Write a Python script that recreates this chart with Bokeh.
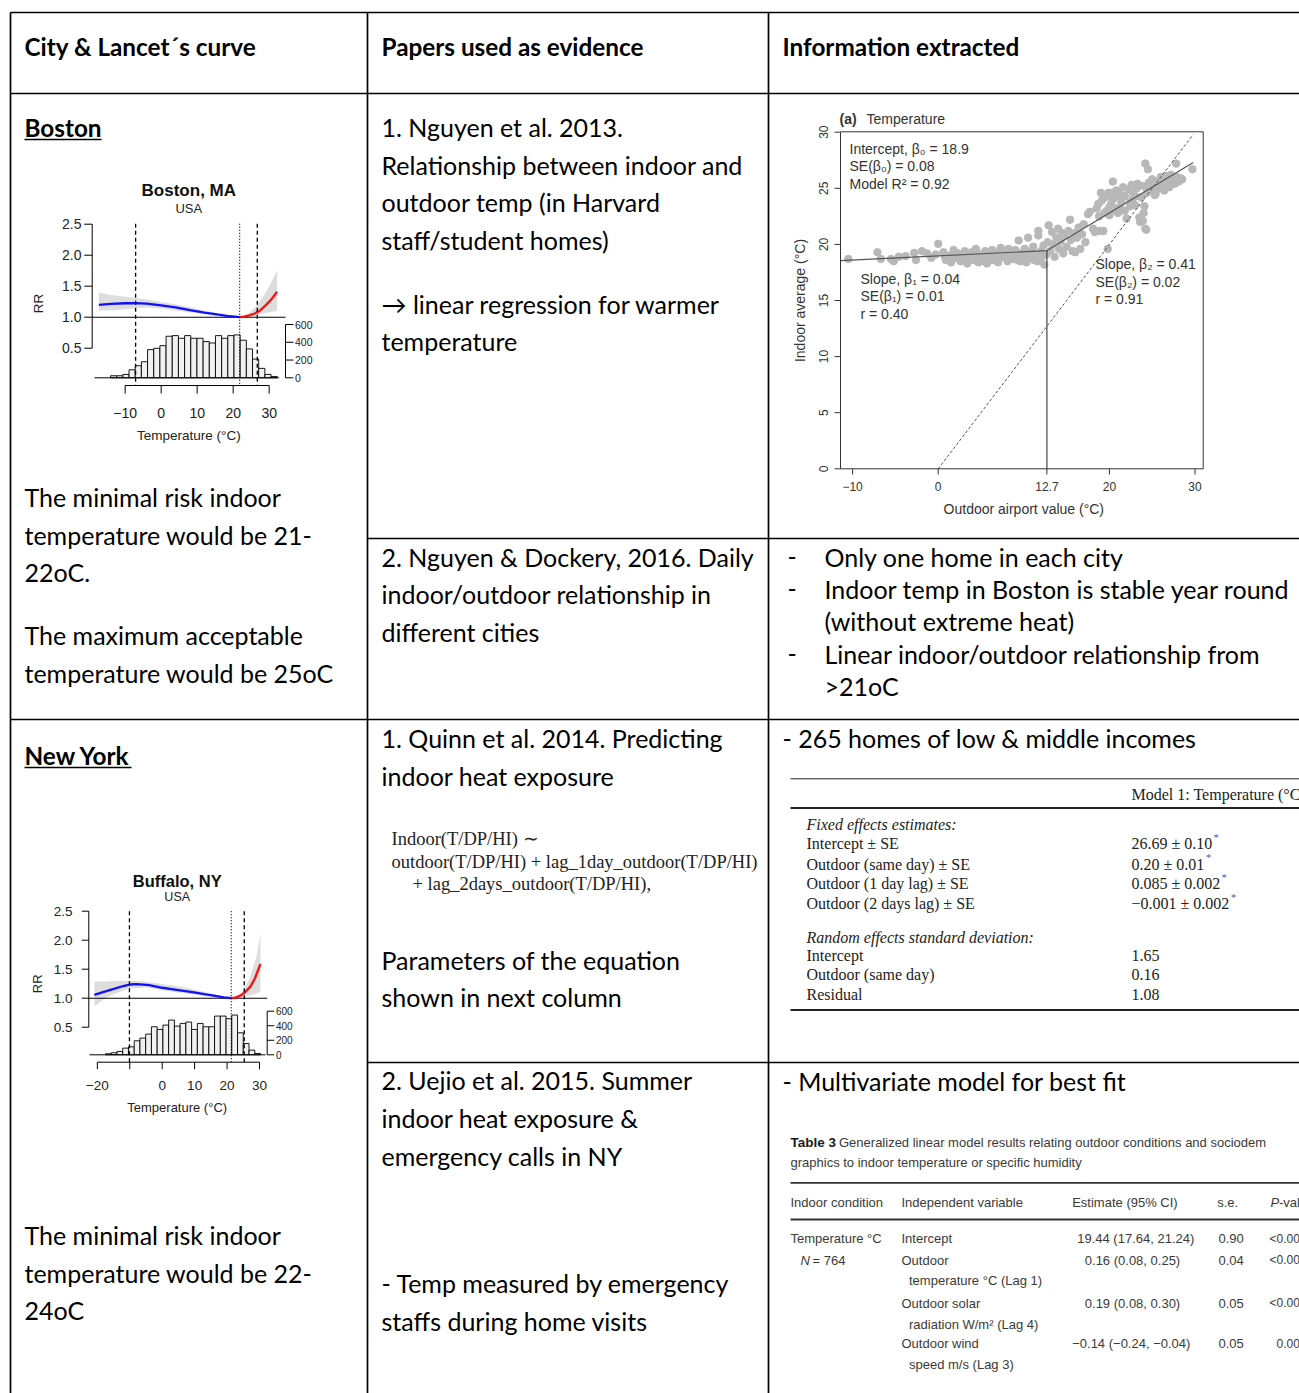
from math import pi
from bokeh.plotting import figure
from bokeh.models import Range1d
from bokeh.core.properties import value
from bokeh.embed import file_html
from bokeh.resources import INLINE

# ------------------------------------------------------------------ data
# Boston, MA (Lancet curve)
BOS_HIST_START = -14.07
BOS_HIST_BIN = 1.715
BOS_HIST_COUNTS = [23, 23, 38, 90, 136, 181, 317, 332, 362, 468, 475, 445, 475, 445,
                   445, 408, 392, 475, 445, 475, 483, 423, 325, 211, 106, 38, 15]
BOS_BLUE_T = [-17.3, -14, -10, -7.1, -4, 0, 4, 8, 12, 16, 19, 21.8]
BOS_BLUE_RR = [1.20, 1.215, 1.225, 1.226, 1.22, 1.19, 1.16, 1.115, 1.075, 1.04, 1.015, 1.0]
BOS_RED_T = [21.8, 23, 24.5, 26, 27.5, 29, 30.5, 32.2]
BOS_RED_RR = [1.0, 1.01, 1.03, 1.06, 1.11, 1.19, 1.28, 1.41]
BOS_BAND_T = [-17.3, -14, -10, -7, -4, 0, 4, 8, 12, 16, 19, 21.8, 24, 26, 28, 30, 32.2]
BOS_BAND_HI = [1.40, 1.36, 1.33, 1.31, 1.285, 1.245, 1.21, 1.16, 1.11, 1.06, 1.025, 1.0, 1.05, 1.15, 1.30, 1.50, 1.75]
BOS_BAND_LO = [1.11, 1.11, 1.13, 1.145, 1.155, 1.14, 1.11, 1.08, 1.05, 1.02, 1.005, 1.0, 1.0, 1.02, 1.06, 1.08, 1.10]
BOS_DASH = [-7.1, 26.7]
BOS_DOT = 21.8
BOS_XTICKS = [-10, 0, 10, 20, 30]
BOS_XLABELS = ["\u221210", "0", "10", "20", "30"]

# Buffalo, NY (Lancet curve)
BUF_HIST_START = -17.48
BUF_HIST_BIN = 1.77
BUF_HIST_COUNTS = [14, 28, 46, 92, 110, 193, 230, 285, 386, 349, 409, 478, 395, 432,
                   451, 349, 432, 386, 386, 533, 533, 497, 547, 303, 156, 64, 18]
BUF_BLUE_T = [-20.9, -18, -14.9, -12, -10.1, -8, -6.7, -4, 0, 5, 9.8, 13, 15.9, 19, 21.3]
BUF_BLUE_RR = [1.057, 1.11, 1.16, 1.21, 1.236, 1.242, 1.24, 1.225, 1.18, 1.14, 1.10, 1.07, 1.046, 1.015, 1.0]
BUF_RED_T = [21.3, 22.5, 24.2, 25.5, 27.2, 28.5, 30.3]
BUF_RED_RR = [1.0, 1.01, 1.046, 1.10, 1.2, 1.33, 1.59]
BUF_BAND_T = [-20.9, -18, -15, -10, -5, 0, 5, 10, 15, 19, 21.3, 23, 25, 27, 29, 30.3]
BUF_BAND_HI = [1.29, 1.29, 1.295, 1.30, 1.285, 1.245, 1.20, 1.15, 1.08, 1.025, 1.0, 1.04, 1.12, 1.35, 1.70, 2.11]
BUF_BAND_LO = [0.86, 0.98, 1.07, 1.17, 1.185, 1.14, 1.10, 1.06, 1.025, 1.005, 1.0, 1.0, 1.02, 1.05, 1.08, 1.11]
BUF_DASH = [-10.1, 25.3]
BUF_DOT = 21.3
BUF_XTICKS = [-20, -10, 0, 10, 20, 30]
BUF_XLABELS = ["\u221220", "", "0", "10", "20", "30"]

RR_TICKS = [0.5, 1.0, 1.5, 2.0, 2.5]
RR_LABELS = ["0.5", "1.0", "1.5", "2.0", "2.5"]
HIST_TICKS = [0, 200, 400, 600]
HIST_LABELS = ["0", "200", "400", "600"]

# Nguyen et al. 2013 scatter (outdoor airport T vs indoor average T)
SC_T = [-10.5, -7.1, -6.7, -5.5, -5.2, -4.6, -3.8, -2.8, -2.6, -1.9, -1.3, 0.0, -0.3, -0.8,
        0.6, 0.9, 1.2, 1.5, 1.8, 2.1, 2.3, 2.6, 2.9, 3.1, 3.4, 3.6, 3.9, 4.2, 4.4, 4.7, 4.9, 5.2,
        5.5, 5.7, 6.0, 6.3, 6.5, 6.8, 7.0, 7.3, 7.6, 7.8, 8.1, 8.2, 8.5, 8.8, 9.0, 9.4, 9.3, 9.6,
        9.8, 10.1, 10.3, 10.5, 10.6, 10.9, 11.1, 11.3, 11.7, 11.7, 11.6, 11.9, 12.0, 12.3, 12.4, 12.6,
        0.8, 1.6, 2.4, 3.2, 4.0, 4.8, 5.6, 6.4, 7.2, 8.0, 8.8, 9.6, 10.4, 11.2, 12.0, 3.0, 5.0, 7.0, 9.0, 11.0,
        12.8, 12.9, 13.1, 13.3, 13.4, 13.6, 13.8, 14.0, 14.1, 14.3, 14.5, 14.6, 14.8, 15.0, 15.2,
        15.4, 15.5, 15.7, 15.9, 16.0, 16.2, 16.4, 16.6, 16.8, 17.0, 17.2, 17.5, 17.7,
        18.1, 18.3, 18.5, 18.7, 18.9, 19.1, 19.8, 19.3, 19.5, 19.7, 19.9, 20.0, 20.2, 20.2, 20.4, 20.4,
        20.6, 20.8, 21.0, 21.2, 21.4, 21.6, 21.8, 22.0, 22.2, 22.4, 22.6, 22.8, 23.0, 23.2, 23.5, 23.6, 23.7,
        18.8, 19.4, 20.0, 20.6, 21.2, 21.8, 22.4, 23.0, 19.0, 20.3, 21.5, 22.7,
        24.0, 24.2, 24.2, 24.3, 24.4, 24.5, 24.6, 24.8, 25.0, 25.2, 25.4, 25.6, 25.8, 26.0, 26.2,
        26.4, 26.6, 26.8, 27.0, 27.2, 27.4, 27.6, 27.8, 27.9, 28.1, 28.3, 28.5, 29.7, 23.3, 25.3,
        24.0, 24.1, 23.9]
SC_V = [18.7, 19.3, 18.7, 18.7, 18.5, 18.9, 18.95, 19.25, 18.6, 19.4, 19.2, 20.05, 19.1, 18.8,
        19.3, 18.6, 19.0, 18.4, 19.5, 18.8, 19.2, 18.5, 19.0, 19.4, 18.3, 18.9, 19.3, 18.6, 19.6, 18.4, 19.1, 18.8,
        19.4, 18.3, 19.0, 19.5, 18.6, 19.2, 18.4, 19.7, 18.9, 19.3, 18.5, 19.6, 19.1, 18.7, 19.5, 20.35, 18.6, 19.2,
        18.9, 19.6, 18.4, 20.6, 19.3, 18.8, 19.8, 19.0, 21.2, 20.8, 18.5, 18.7, 19.4, 19.9, 18.2, 19.1,
        18.9, 18.9, 18.9, 18.7, 19.0, 18.9, 18.9, 18.9, 19.0, 19.0, 19.2, 18.5, 19.1, 18.6, 18.8, 18.8, 18.5, 19.0, 18.9, 19.3,
        20.2, 21.7, 19.4, 21.1, 20.0, 18.9, 20.6, 21.4, 19.6, 20.3, 21.0, 19.2, 20.8, 19.8, 21.2,
        22.2, 20.4, 19.4, 21.0, 19.3, 20.6, 21.5, 19.6, 20.9, 21.8, 20.2, 22.7, 22.9,
        21.4, 21.1, 23.2, 23.6, 21.2, 23.9, 19.6, 21.2, 24.2, 23.0, 24.6, 22.6, 23.6, 23.0, 25.6, 24.0,
        23.2, 24.8, 22.8, 24.5, 23.8, 25.1, 24.3, 22.3, 24.9, 23.7, 25.3, 24.5, 23.5, 25.0, 22.4, 22.0, 24.2,
        22.5, 22.8, 23.3, 24.2, 23.3, 23.0, 23.4, 24.3, 24.6, 24.6, 24.2, 24.0,
        25.2, 27.2, 21.4, 21.3, 24.6, 26.7, 25.5, 24.9, 25.8, 25.1, 24.5, 25.6, 25.0, 26.0, 25.3,
        24.8, 26.1, 25.6, 25.1, 26.2, 25.7, 25.4, 27.2, 26.0, 25.6, 25.9, 25.8, 26.7, 25.4, 24.4,
        22.8, 23.4, 22.1]
SC_FIT_T = [-11.4, 12.7, 29.8]
SC_FIT_V = [18.55, 19.45, 27.3]
SC_BREAK = 12.7
SC_IDENT = [0, 29.8]
SC_XTICKS = [-10, 0, 12.7, 20, 30]
SC_XLABELS = ["\u221210", "0", "12.7", "20", "30"]
SC_YTICKS = [0, 5, 10, 15, 20, 25, 30]
SC_YLABELS = ["0", "5", "10", "15", "20", "25", "30"]

# ------------------------------------------------------------------ page
W, H = 1299, 1393
X0, X1, Y0, Y1 = 0, W, 0, H
p = figure(width=W, height=H, x_range=Range1d(X0, X1), y_range=Range1d(Y1, Y0),
           output_backend="svg", toolbar_location=None, min_border=0,
           x_axis_type=None, y_axis_type=None, outline_line_color=None,
           background_fill_color="white", border_fill_color="white")


def lin_range(v0, px0, v1, px1, lo_px, hi_px):
    s = (px1 - px0) / (v1 - v0)
    return Range1d(v0 + (lo_px - px0) / s, v0 + (hi_px - px0) / s)


p.extra_x_ranges = {
    "bx": lin_range(0, 160.67, 10, 196.67, X0, X1),
    "fx": lin_range(0, 161.7, 10, 194.13, X0, X1),
    "sx": lin_range(0, 937.7, 30, 1194.5, X0, X1),
}
p.extra_y_ranges = {
    "brr": lin_range(1.0, 316.7, 2.0, 254.7, Y1, Y0),
    "bh": lin_range(0, 377.3, 600, 324.0, Y1, Y0),
    "frr": lin_range(1.0, 997.7, 2.0, 939.7, Y1, Y0),
    "fh": lin_range(0, 1054.3, 600, 1010.7, Y1, Y0),
    "sy": lin_range(0, 468.3, 30, 131.7, Y1, Y0),
}

MAIN = "Lato"
CH = "Liberation Sans"
SERIF = "Liberation Serif"


def T(xs, ys, texts, size, font=MAIN, style="normal", color="black", align="left",
      baseline="middle", angle=0.0, xr=None, yr=None):
    n = len(texts)
    if not isinstance(xs, (list, tuple)):
        xs = [xs] * n
    if not isinstance(ys, (list, tuple)):
        ys = [ys] * n
    kw = {}
    if xr:
        kw["x_range_name"] = xr
    if yr:
        kw["y_range_name"] = yr
    p.text(x=list(xs), y=list(ys), text=list(texts), text_font=value(font),
           text_font_size=f"{size}px", text_font_style=style, text_color=color,
           text_align=align, text_baseline=baseline, angle=angle, **kw)


def seg(x0, y0, x1, y1, color="black", width=1.0, dash="solid", xr=None, yr=None):
    kw = {}
    if xr:
        kw["x_range_name"] = xr
    if yr:
        kw["y_range_name"] = yr
    p.segment(x0=list(x0), y0=list(y0), x1=list(x1), y1=list(y1), line_color=color,
              line_width=width, line_dash=dash, **kw)


# ------------------------------------------------------------------ table grid
LW = 1.7
seg([10, 10, 10, 367, 367], [12, 93, 719, 538, 1062], [1299, 1299, 1299, 1299, 1299],
    [12, 93, 719, 538, 1062], width=LW)
seg([10, 367, 768], [12, 12, 12], [10, 367, 768], [1393, 1393, 1393], width=LW)

FS = 25
FB = 24.3
T([24, 381, 782], 46, ["City & Lancet\u00b4s curve", "Papers used as evidence", "Information extracted"],
  FB, style="bold")

# column 1
T(24, 127, ["Boston"], FB, style="bold")
seg([24], [139], [101], [139], width=1.5)
T(24, [496, 534, 571], ["The minimal risk indoor", "temperature would be 21-", "22oC."], FS)
T(24, [634, 672], ["The maximum acceptable", "temperature would be 25oC"], FS)
T(24, 755, ["New York"], FB, style="bold")
seg([24], [767], [131], [767], width=1.5)
T(24, [1234, 1272, 1309], ["The minimal risk indoor", "temperature would be 22-", "24oC"], FS)

# column 2
T(381, [126, 164, 201, 239], ["1. Nguyen et al. 2013.", "Relationship between indoor and",
                               "outdoor temp (in Harvard", "staff/student homes)"], FS)
T(381, [303, 340], ["\u2192 linear regression for warmer", "temperature"], FS)
T(381, [556, 593, 631], ["2. Nguyen & Dockery, 2016. Daily", "indoor/outdoor relationship in",
                         "different cities"], FS)
T(381, [737, 775], ["1. Quinn et al. 2014. Predicting", "indoor heat exposure"], FS)
T([391, 391, 412], [838, 861, 883], ["Indoor(T/DP/HI) \u223c",
                                     "outdoor(T/DP/HI) + lag_1day_outdoor(T/DP/HI)",
                                     "+ lag_2days_outdoor(T/DP/HI),"], 18.5, SERIF, color="#222222")
T(381, [959, 996], ["Parameters of the equation", "shown in next column"], FS)
T(381, [1079, 1117, 1155], ["2. Uejio et al. 2015. Summer", "indoor heat exposure &",
                            "emergency calls in NY"], FS)
T(381, [1282, 1320], ["- Temp measured by emergency", "staffs during home visits"], FS)

# column 3 text
T(787, [556, 588, 653], ["-", "-", "-"], FS)
T(824, [556, 588, 620, 653, 685], ["Only one home in each city",
                                   "Indoor temp in Boston is stable year round",
                                   "(without extreme heat)",
                                   "Linear indoor/outdoor relationship from", ">21oC"], FS)
T(782, [737, 1080], ["- 265 homes of low & middle incomes", "- Multivariate model for best fit"], FS)


# ------------------------------------------------------------------ Lancet RR charts
def rr_chart(c, counts, start, binw, blue_t, blue_rr, red_t, red_rr, band_t, band_lo, band_hi,
             xticks, xlabels, dashes, dot, title):
    xr, rr, hr = c["xr"], c["rr"], c["hr"]
    p.varea(x=band_t, y1=band_lo, y2=band_hi, fill_color="#d4d4d4", fill_alpha=0.8,
            x_range_name=xr, y_range_name=rr)
    left = [start + i * binw for i in range(len(counts))]
    right = [l + binw for l in left]
    p.quad(left=left, right=right, bottom=[0] * len(counts), top=counts, fill_color="#f1f1f1",
           line_color="black", line_width=0.9, x_range_name=xr, y_range_name=hr)
    seg([c["hb0"]], [0], [c["hb1"]], [0], yr=hr)
    seg([c["ya"]], [1.0], [c["rl1"]], [1.0], width=1.1, yr=rr)
    p.line(blue_t, blue_rr, line_color="#1010ff", line_width=2.3, x_range_name=xr, y_range_name=rr)
    p.line(red_t, red_rr, line_color="#ff1010", line_width=2.3, x_range_name=xr, y_range_name=rr)
    # RR axis
    seg([c["ya"]], [RR_TICKS[0]], [c["ya"]], [RR_TICKS[-1]], yr=rr)
    seg([c["ya"]] * 5, RR_TICKS, [c["ya"] - c["tl"]] * 5, RR_TICKS, yr=rr)
    T(c["ylx"], RR_TICKS, RR_LABELS, c["fs"], CH, color="#222222", align="right", yr=rr)
    # histogram axis
    seg([c["ha"]], [0], [c["ha"]], [600], yr=hr)
    seg([c["ha"]] * 4, HIST_TICKS, [c["ha"] + c["tl"]] * 4, HIST_TICKS, yr=hr)
    T(c["hlx"], HIST_TICKS, HIST_LABELS, c["hfs"], CH, color="#222222", yr=hr)
    # temperature axis
    seg([xticks[0]], [c["xa"]], [xticks[-1]], [c["xa"]], xr=xr)
    seg(xticks, [c["xa"]] * len(xticks), xticks, [c["xa"] + c["tl"]] * len(xticks), xr=xr)
    T(xticks, c["xly"], xlabels, c["fs"], CH, color="#222222", align="center", xr=xr)
    # threshold lines
    seg(dashes, [c["dtop"]] * 2, dashes, [c["xa"]] * 2, width=1.3, dash="4 3", xr=xr)
    seg([dot], [c["dtop"]], [dot], [c["xa"]], width=1.2, dash="1 2", xr=xr)
    # titles
    T(c["cx"], c["ty"], [title], c["fs"] + 3, CH, style="bold", color="#111111", align="center")
    T(c["cx"], c["uy"], ["USA"], c["fs"] - 1, CH, color="#222222", align="center")
    T(c["rrx"], c["rry"], ["RR"], c["fs"] - 0.5, CH, color="#222222", align="center", angle=pi / 2)
    T(c["cx"], c["xty"], ["Temperature (\u00b0C)"], c["fs"] - 0.5, CH, color="#222222", align="center")


BOS_LAYOUT = dict(xr="bx", rr="brr", hr="bh", ya=91.7, rl1=285, hb0=94, hb1=278.3, ha=285,
                  tl=8, ylx=81, hlx=294.5, xa=385, xly=412, dtop=223.3, cx=188.3, ty=190,
                  uy=208, rrx=38.3, rry=303, xty=435, fs=14, hfs=10.5)
BUF_LAYOUT = dict(xr="fx", rr="frr", hr="fh", ya=88.3, rl1=266.7, hb0=89, hb1=265, ha=266.7,
                  tl=7, ylx=72, hlx=275.5, xa=1061.7, xly=1085, dtop=910.7, cx=176.7, ty=880,
                  uy=896.5, rrx=36.7, rry=983.3, xty=1107, fs=13.5, hfs=10)

rr_chart(BOS_LAYOUT, BOS_HIST_COUNTS, BOS_HIST_START, BOS_HIST_BIN, BOS_BLUE_T, BOS_BLUE_RR,
         BOS_RED_T, BOS_RED_RR, BOS_BAND_T, BOS_BAND_LO, BOS_BAND_HI, BOS_XTICKS, BOS_XLABELS,
         BOS_DASH, BOS_DOT, "Boston, MA")
rr_chart(BUF_LAYOUT, BUF_HIST_COUNTS, BUF_HIST_START, BUF_HIST_BIN, BUF_BLUE_T, BUF_BLUE_RR,
         BUF_RED_T, BUF_RED_RR, BUF_BAND_T, BUF_BAND_LO, BUF_BAND_HI, BUF_XTICKS, BUF_XLABELS,
         BUF_DASH, BUF_DOT, "Buffalo, NY")

# ------------------------------------------------------------------ Nguyen 2013 scatter
p.scatter(SC_T, SC_V, size=7.5, fill_color="#b8b8b8", line_color="#b8b8b8",
          x_range_name="sx", y_range_name="sy")
p.line(SC_FIT_T, SC_FIT_V, line_color="#555555", line_width=1.2, x_range_name="sx", y_range_name="sy")
seg([SC_BREAK], [0], [SC_BREAK], [SC_FIT_V[1]], color="#444444", width=1.2, xr="sx", yr="sy")
seg([SC_IDENT[0]], [SC_IDENT[0]], [SC_IDENT[1]], [SC_IDENT[1]], color="#555555", width=1.0,
    dash="3 2", xr="sx", yr="sy")
p.quad(left=[840], right=[1202.7], top=[131.3], bottom=[468.3], fill_color=None,
       line_color="#333333", line_width=1.0)
seg(SC_XTICKS, [468.3] * 5, SC_XTICKS, [474] * 5, color="#333333", xr="sx")
T(SC_XTICKS, 485.5, SC_XLABELS, 12, CH, color="#333333", align="center", xr="sx")
seg([840] * 7, SC_YTICKS, [834] * 7, SC_YTICKS, color="#333333", yr="sy")
T(822.5, SC_YTICKS, SC_YLABELS, 12, CH, color="#333333", align="center", angle=pi / 2, yr="sy")
T(1023.3, 508.5, ["Outdoor airport value (\u00b0C)"], 14, CH, color="#333333", align="center")
T(799, 300, ["Indoor average (\u00b0C)"], 14, CH, color="#333333", align="center", angle=pi / 2)
T(839, 118.5, ["(a)"], 14, CH, style="bold", color="#333333")
T(866, 118.5, ["Temperature"], 14, CH, color="#333333")
T(849, [148.5, 165.5, 183.5], ["Intercept, \u03b2\u2080 = 18.9", "SE(\u03b2\u2080) = 0.08",
                               "Model R\u00b2 = 0.92"], 14, CH, color="#333333")
T(860, [278.5, 295.5, 313.5], ["Slope, \u03b2\u2081 = 0.04", "SE(\u03b2\u2081) = 0.01", "r = 0.40"],
  14, CH, color="#333333")
T(1095, [263.5, 281.5, 298.5], ["Slope, \u03b2\u2082 = 0.41", "SE(\u03b2\u2082) = 0.02", "r = 0.91"],
  14, CH, color="#333333")

# ------------------------------------------------------------------ Quinn 2014 table
TF = 16
seg([790], [778.3], [1299], [778.3], color="#222222", width=1.0)
seg([790, 790], [807.5, 1009.5], [1299, 1299], [807.5, 1009.5], color="#222222", width=2.2)
T(1131, 793.5, ["Model 1: Temperature (\u00b0C"], TF, SERIF, color="#222222")
T(806, [823.5, 936.5], ["Fixed effects estimates:", "Random effects standard deviation:"], TF,
  SERIF, style="italic", color="#222222")
ROW1 = [843.3, 863.5, 883.3, 902.7, 955, 974.3, 994]
T(806, ROW1,
  ["Intercept \u00b1 SE", "Outdoor (same day) \u00b1 SE", "Outdoor (1 day lag) \u00b1 SE",
   "Outdoor (2 days lag) \u00b1 SE", "Intercept", "Outdoor (same day)", "Residual"],
  TF, SERIF, color="#222222")
T(1131, ROW1,
  ["26.69 \u00b1 0.10", "0.20 \u00b1 0.01", "0.085 \u00b1 0.002", "\u22120.001 \u00b1 0.002",
   "1.65", "0.16", "1.08"], TF, SERIF, color="#222222")
T([1213, 1205.5, 1221, 1230.5], [837, 857, 877, 896.5], ["*", "*", "*", "*"], 10.5, SERIF,
  color="#5a4fa0")

# ------------------------------------------------------------------ Uejio 2015 table
NF = "Liberation Sans"
NS = 13
NC = "#3a3a3a"
T(790, 1141.7, ["Table 3"], NS + 0.5, NF, style="bold", color="#1a1a1a")
T(838.5, 1141.7, ["Generalized linear model results relating outdoor conditions and sociodem"],
  NS, NF, color=NC)
T(790, 1162.3, ["graphics to indoor temperature or specific humidity"], NS, NF, color=NC)
seg([790, 790], [1182.3, 1219], [1299, 1299], [1182.3, 1219], color="#333333", width=1.8)
T([790, 901, 1071.7, 1216.7], 1201.7,
  ["Indoor condition", "Independent variable", "Estimate (95% CI)", "s.e."], NS, NF, color=NC)
T(1270, 1201.7, ["P"], NS, NF, style="italic", color=NC)
T(1278.5, 1201.7, ["-val"], NS, NF, color=NC)
T(790, 1238.3, ["Temperature \u00b0C"], NS, NF, color=NC)
T(800, 1259.5, ["N"], NS, NF, style="italic", color=NC)
T(812, 1259.5, ["= 764"], NS, NF, color=NC)
ROW2 = [1238.3, 1259.5, 1302.7, 1343.3]
T(901, ROW2, ["Intercept", "Outdoor", "Outdoor solar", "Outdoor wind"], NS, NF, color=NC)
T(908.5, [1280, 1324.3, 1364], ["temperature \u00b0C (Lag 1)", "radiation W/m\u00b2 (Lag 4)",
                                 "speed m/s (Lag 3)"], NS, NF, color=NC)
T([1076.7, 1084.3, 1084.3, 1071.7], ROW2,
  ["19.44 (17.64, 21.24)", "0.16 (0.08, 0.25)", "0.19 (0.08, 0.30)",
   "\u22120.14 (\u22120.24, \u22120.04)"], NS, NF, color=NC)
T(1218, ROW2, ["0.90", "0.04", "0.05", "0.05"], NS, NF, color=NC)
T([1269, 1269, 1269, 1276], ROW2, ["<0.00", "<0.00", "<0.00", "0.00"], 12, NF, color=NC)

open("out.html", "w").write(file_html(p, INLINE))
